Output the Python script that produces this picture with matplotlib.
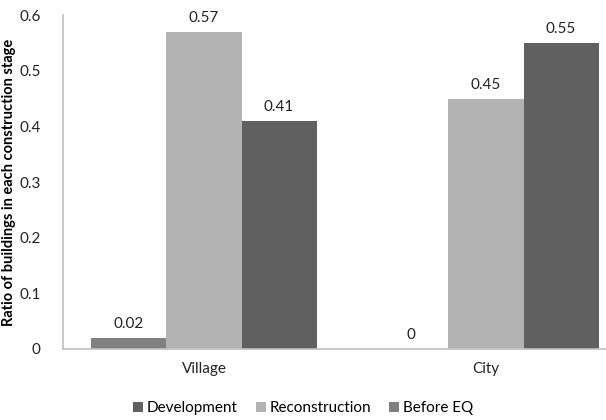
import matplotlib
matplotlib.use("Agg")
import matplotlib.pyplot as plt
import numpy as np

plt.rcParams['font.family'] = ['Lato', 'DejaVu Sans']

places = ["Village", "City"]
before_eq = [0.02, 0.0]
reconstruction = [0.57, 0.45]
development = [0.41, 0.55]

series = [
    ("Before EQ", before_eq, "#808080"),
    ("Reconstruction", reconstruction, "#b3b3b3"),
    ("Development", development, "#606060"),
]

fig = plt.figure(figsize=(6.06, 4.2), dpi=100)
ax = fig.add_axes([63 / 606, 71 / 420, 564 / 606, 334 / 420])

x = np.arange(len(places))
width = 0.266
bars = {}
for i, (name, vals, color) in enumerate(series):
    b = ax.bar(x + (i - 1) * width, vals, width, color=color, label=name)
    bars[name] = b
    for xi, v in zip(x + (i - 1) * width, vals):
        ax.text(xi, v + 0.012, f"{v:g}", ha="center", va="bottom",
                fontsize=11, color="#222222")

ax.set_xlim(-0.5, 1.5)
ax.set_ylim(0, 0.6)
ax.set_yticks(np.arange(0, 0.61, 0.1))
ax.set_yticklabels(["0", "0.1", "0.2", "0.3", "0.4", "0.5", "0.6"])
ax.set_xticks(x)
ax.set_xticklabels(places)
ax.tick_params(axis="both", length=0, labelsize=11, colors="#222222")
ax.tick_params(axis="y", pad=16)
ax.tick_params(axis="x", pad=9)

for side in ["top", "right"]:
    ax.spines[side].set_visible(False)
for side in ["left", "bottom"]:
    ax.spines[side].set_color("#c0c0c0")
    ax.spines[side].set_linewidth(1.2)

ax.set_ylabel("Ratio of buildings in each construction stage",
              fontsize=10.5, fontweight="bold")
ax.yaxis.set_label_coords(-0.083, 0.5)

order = ["Development", "Reconstruction", "Before EQ"]
fig.legend([bars[n] for n in order], order, loc="center",
           bbox_to_anchor=(0.5, 12 / 420), ncol=3, frameon=False,
           fontsize=11, handlelength=0.65, handleheight=0.65,
           handletextpad=0.25, columnspacing=1.2)

fig.savefig("out.png", dpi=100)
